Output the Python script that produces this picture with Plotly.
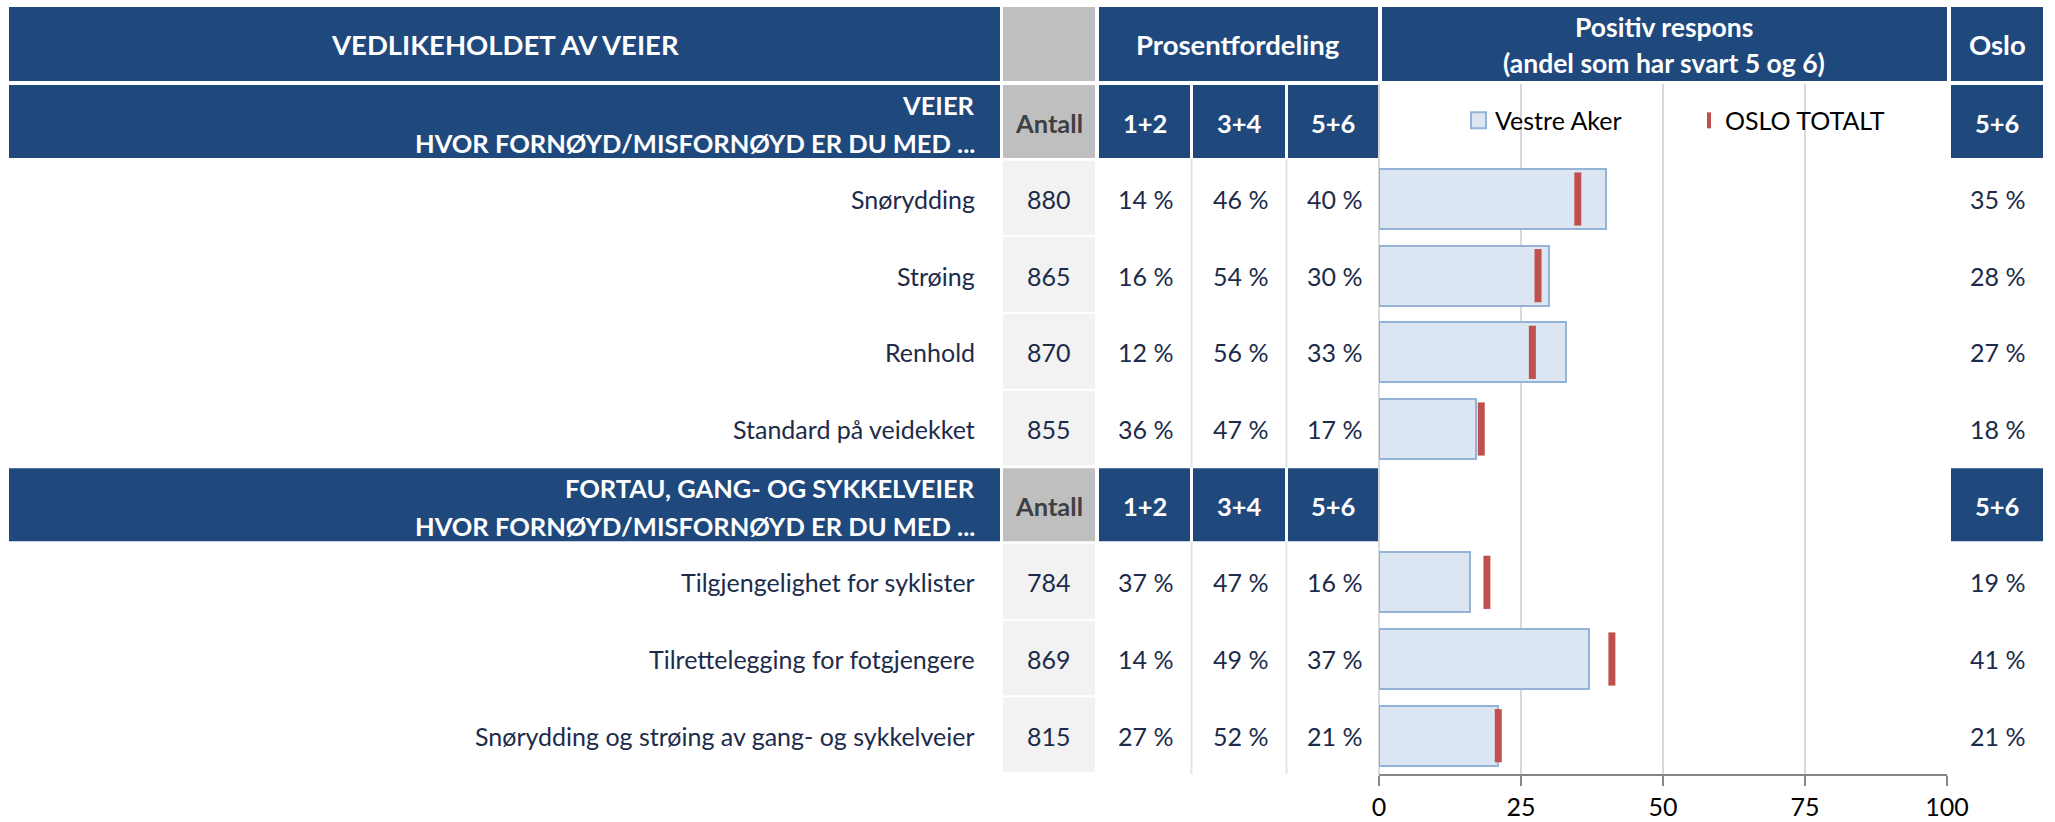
import plotly.graph_objects as go

# ---------------- data ----------------
title = "VEDLIKEHOLDET AV VEIER"
sections = ["VEIER", "FORTAU, GANG- OG SYKKELVEIER"]
question = "HVOR FORNØYD/MISFORNØYD ER DU MED ..."
items = ["Snørydding", "Strøing", "Renhold", "Standard på veidekket",
         "Tilgjengelighet for syklister", "Tilrettelegging for fotgjengere",
         "Snørydding og strøing av gang- og sykkelveier"]
item_section = [0, 0, 0, 0, 1, 1, 1]
antall = [880, 865, 870, 855, 784, 869, 815]
pct_12 = [14, 16, 12, 36, 37, 14, 27]
pct_34 = [46, 54, 56, 47, 47, 49, 52]
pct_56 = [40, 30, 33, 17, 16, 37, 21]
oslo_56 = [35, 28, 27, 18, 19, 41, 21]
col_headers = ["1+2", "3+4", "5+6"]
antall_header = "Antall"
group_header = "Prosentfordeling"
chart_header = ["Positiv respons", "(andel som har svart 5 og 6)"]
oslo_header = "Oslo"
series_names = ["Vestre Aker", "OSLO TOTALT"]
x_ticks = [0, 25, 50, 75, 100]

# ---------------- geometry / style ----------------
W, H = 2055, 822
NAVY = "#1F497D"
GRAY_HDR = "#BFBFBF"
GRAY_CELL = "#F2F2F2"
TXT = "#1c2b4a"
BAR_FILL = "#DCE6F2"
BAR_LINE = "#95B3D7"
RED = "#C0504D"
FONT = "Lato, 'Open Sans', sans-serif"
FS = 25
FS_H1 = 27.5
FS_H2 = 25.5

PLOT_TOP, PLOT_BOT = 84, 774
X0, X1 = 1379, 1947

def px(x):
    return x / W

def py(y):
    return 1 - y / H

# slots: header slot for each section, then its items
slot_of_item = []
header_slots = []
s = 0
for sec_i in range(len(sections)):
    header_slots.append(s)
    s += 1
    for i, sec in enumerate(item_section):
        if sec == sec_i:
            slot_of_item.append(s)
            s += 1
n_slots = s
slot_h = (PLOT_BOT - PLOT_TOP) / n_slots

def slot_top(k):
    return PLOT_TOP + k * slot_h

shapes = []
annotations = []

def rect(x0, y0, x1, y1, color, line=None, lw=0):
    shapes.append(dict(type="rect", xref="paper", yref="paper",
                       x0=px(x0), x1=px(x1), y0=py(y1), y1=py(y0),
                       fillcolor=color, line=dict(width=lw, color=line or color),
                       layer="below"))

def text(x, y, t, anchor="center", size=FS, color=TXT, bold=False):
    annotations.append(dict(xref="paper", yref="paper", x=px(x), y=py(y),
                            text=f"<b>{t}</b>" if bold else t,
                            showarrow=False, xanchor=anchor, yanchor="middle",
                            font=dict(family=FONT, size=size, color=color)))

# header row 1
rect(9, 7, 1000, 81, NAVY)
rect(1003, 7, 1095, 81, GRAY_HDR)
rect(1099, 7, 1378, 81, NAVY)
rect(1382, 7, 1947, 81, NAVY)
rect(1951, 7, 2043, 81, NAVY)
text(505, 45, title, bold=True, color="white", size=FS_H1)
text(1238, 45, group_header, bold=True, color="white", size=FS_H1)
text(1664, 27, chart_header[0], bold=True, color="white", size=FS_H1 - 1)
text(1664, 63, chart_header[1], bold=True, color="white", size=FS_H1 - 1)
text(1997, 45, oslo_header, bold=True, color="white", size=FS_H1)

col_x = [(1099, 1190), (1193, 1285), (1288, 1378)]

# section header rows
for sec_i, hs in enumerate(header_slots):
    t = slot_top(hs) + 1
    b = t + 73
    rect(9, t, 1000, b, NAVY)
    rect(1003, t, 1095, b, GRAY_HDR)
    for (a, c) in col_x:
        rect(a, t, c, b, NAVY)
    rect(1951, t, 2043, b, NAVY)
    text(977, t + 20, sections[sec_i], anchor="right", bold=True, color="white", size=FS_H2)
    text(977, t + 58, question, anchor="right", bold=True, color="white", size=FS_H2)
    text(1049, t + 38, antall_header, bold=True, color="#404040", size=FS_H2)
    for (a, c), h in zip(col_x, col_headers):
        text((a + c) / 2, t + 38, h, bold=True, color="white", size=FS_H2)
    text(1997, t + 38, col_headers[2], bold=True, color="white", size=FS_H2)

# data rows
for i, k in enumerate(slot_of_item):
    t = slot_top(k)
    rect(1003, t, 1095, t + slot_h - 2, GRAY_CELL)
    yc = t + slot_h / 2
    text(977, yc, items[i], anchor="right")
    text(1049, yc, f"{antall[i]}")
    for (a, c), v in zip(col_x, (pct_12[i], pct_34[i], pct_56[i])):
        text((a + c) / 2 + 1, yc, f"{v} %")
    text(1997, yc, f"{oslo_56[i]} %")

# light column separators in the data blocks
for sec_i, hs in enumerate(header_slots):
    top = slot_top(hs + 1) - 2
    last = max(k for k, sec in zip(slot_of_item, item_section) if sec == sec_i)
    bot = slot_top(last + 1)
    for xx in (1191.5, 1286.5):
        shapes.append(dict(type="line", xref="paper", yref="paper",
                           x0=px(xx), x1=px(xx), y0=py(bot), y1=py(top),
                           line=dict(color=BAR_FILL, width=2), layer="below"))

# manual legend
ly = slot_top(header_slots[0]) + slot_h / 2 - 2
shapes.append(dict(type="rect", xref="paper", yref="paper",
                   x0=px(1471), x1=px(1486), y0=py(ly + 8), y1=py(ly - 8),
                   fillcolor=BAR_FILL, line=dict(color=BAR_LINE, width=2)))
shapes.append(dict(type="line", xref="paper", yref="paper",
                   x0=px(1709), x1=px(1709), y0=py(ly + 8), y1=py(ly - 8),
                   line=dict(color=RED, width=4)))
text(1493, ly, series_names[0], anchor="left", color="black")
text(1723, ly, series_names[1], anchor="left", color="black")

# ---------------- traces ----------------
fig = go.Figure()
fig.add_trace(go.Bar(
    x=pct_56, y=slot_of_item, orientation="h", width=0.78,
    marker=dict(color=BAR_FILL, line=dict(color=BAR_LINE, width=2)),
    name=series_names[0], showlegend=False, hoverinfo="x"))
fig.add_trace(go.Scatter(
    x=oslo_56, y=slot_of_item, mode="markers",
    marker=dict(symbol="line-ns", size=38,
                line=dict(color=RED, width=7)),
    name=series_names[1], showlegend=False, hoverinfo="x"))

fig.update_layout(
    autosize=True,
    margin=dict(l=0, r=0, t=0, b=0, autoexpand=False),
    paper_bgcolor="white", plot_bgcolor="white",
    shapes=shapes, annotations=annotations,
    xaxis=dict(domain=[px(X0), px(X1)], range=[0, 100],
               tickvals=x_ticks, ticktext=[str(v) for v in x_ticks],
               showgrid=True, gridcolor="#D9D9D9", gridwidth=2,
               zeroline=True, zerolinecolor="#D9D9D9", zerolinewidth=2,
               showline=True, linecolor="#868686", linewidth=2,
               ticks="outside", ticklen=10, tickcolor="#868686", tickwidth=2,
               tickfont=dict(family=FONT, size=FS, color="black"),
               automargin=False, fixedrange=True),
    yaxis=dict(domain=[py(PLOT_BOT), py(PLOT_TOP)],
               range=[n_slots - 0.5, -0.5],
               showticklabels=False, showgrid=False, zeroline=False,
               showline=False, automargin=False, fixedrange=True),
    bargap=0,
)

fig.write_html(
    "out.html",
    default_width="100vw",
    default_height="100vh",
    config={"displayModeBar": False},
    post_script=("document.body.style.margin='0';"
                 "document.body.style.overflow='hidden';"
                 "document.documentElement.style.overflow='hidden';"),
)
